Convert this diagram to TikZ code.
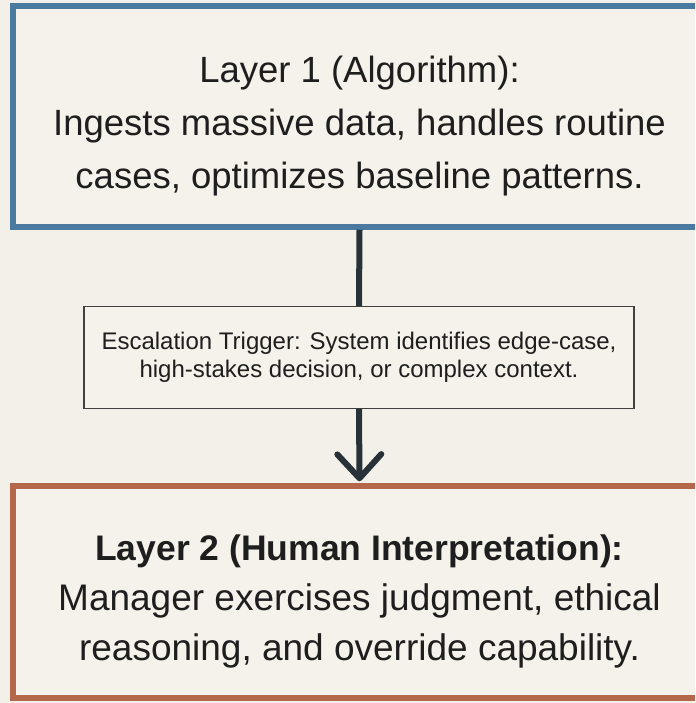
\documentclass[tikz,border=0pt]{standalone}
\usepackage{fontspec}
\setmainfont{Liberation Sans}
\usetikzlibrary{arrows.meta}

\definecolor{paper}{HTML}{F3F0E9}
\definecolor{boxfill}{HTML}{F5F2EB}
\definecolor{algoblue}{HTML}{4A7AA0}
\definecolor{humanrust}{HTML}{B5674C}
\definecolor{ink}{HTML}{1E1E1E}
\definecolor{shaft}{HTML}{263238}

\tikzset{
  layerbox/.style={draw, line width=5.5pt, fill=boxfill, inner sep=0pt,
    minimum width=693pt},
  layertext/.style={align=center, text=ink, inner sep=0pt},
  triggerbox/.style={draw=ink!85, line width=1.4pt, fill=boxfill, align=center,
    text=ink, inner sep=0pt, minimum width=550pt, minimum height=102pt,
    font=\fontsize{24}{28.5}\selectfont},
  flow/.style={draw=shaft, line width=6pt}
}

\begin{document}
\begin{tikzpicture}[x=1pt,y=1pt]
  \useasboundingbox (0,0) rectangle (695,-703);
  \clip (0,0) rectangle (695,-703);
  \fill[paper] (0,0) rectangle (695,-703);

  % algorithm layer
  \node[layerbox, draw=algoblue, minimum height=221pt] (layer1) at (359.5,-116.5) {};
  \node[layertext, font=\fontsize{36.5}{53}\selectfont] (layer1text)
    at ([yshift=-10pt]layer1.center)
    {Layer 1 (Algorithm):\\
     Ingests massive data, handles routine\\
     cases, optimizes baseline patterns.};

  % escalation step
  \node[triggerbox] (trigger) at (359,-357.5)
    {Escalation Trigger: System identifies edge-case,\\
     high-stakes decision, or complex context.};

  % human layer
  \node[layerbox, draw=humanrust, minimum height=212pt] (layer2) at (359.5,-592) {};
  \node[layertext, font=\fontsize{37}{50}\selectfont] (layer2text)
    at ([yshift=-9pt]layer2.center)
    {{\fontsize{35.5}{50}\selectfont\bfseries Layer 2 (Human Interpretation):}\\
     Manager exercises judgment, ethical\\
     reasoning, and override capability.};

  % connectors
  \draw[flow] (layer1.south) -- (trigger.north);
  \draw[flow, -{Straight Barb[length=24pt, width=44pt, round]}]
    (trigger.south) -- ([yshift=2pt]layer2.north);
\end{tikzpicture}
\end{document}
